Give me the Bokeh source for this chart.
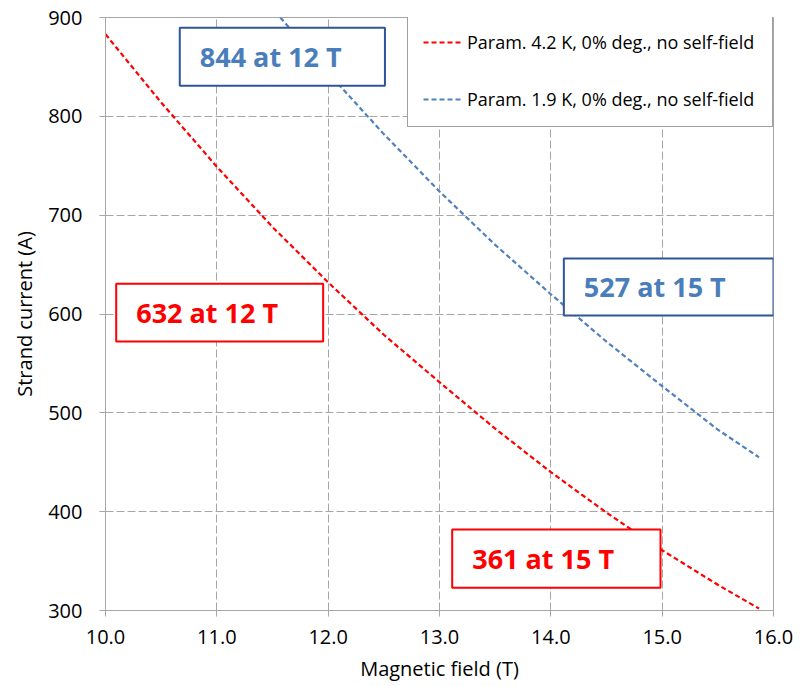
from bokeh.plotting import figure
from bokeh.models import Range1d, FixedTicker, Legend, LegendItem, Label, BoxAnnotation, NumeralTickFormatter
from bokeh.embed import file_html
from bokeh.resources import INLINE

# Data
field_42 = [10.0, 10.5, 11.0, 11.5, 12.0, 12.5, 13.0, 13.5, 14.0, 14.5, 15.0, 15.5, 15.87]
current_42 = [883, 814, 749, 688, 632, 579, 531, 484, 440, 399, 361, 326, 302]
field_19 = [11.57, 12.0, 12.5, 13.0, 13.5, 14.0, 14.5, 15.0, 15.5, 15.87]
current_19 = [900, 844, 782, 724, 670, 620, 572, 527, 483, 455]
label_42 = "Param. 4.2 K, 0% deg., no self-field"
label_19 = "Param. 1.9 K, 0% deg., no self-field"
x_ticks = [10, 11, 12, 13, 14, 15, 16]
y_ticks = [300, 400, 500, 600, 700, 800, 900]
annotations = [
    ("844 at 12 T", 10.667, 12.51, 889.6, 830.9, "#2F5597", "#4A7EBB"),
    ("527 at 15 T", 14.117, 16.0, 656.2, 598.5, "#2F5597", "#4A7EBB"),
    ("632 at 12 T", 10.096, 11.955, 630.6, 572.2, "#FF0000", "#FF0000"),
    ("361 at 15 T", 13.114, 14.985, 382.0, 323.0, "#FF0000", "#FF0000"),
]

FONT = "Open Sans"
p = figure(width=811, height=686, output_backend="svg", toolbar_location=None,
           x_range=Range1d(10, 16), y_range=Range1d(300, 900),
           min_border_left=105, min_border_right=38, min_border_top=17, min_border_bottom=76)
p.background_fill_color = "white"
p.border_fill_color = "white"
p.outline_line_color = "#A6A6A6"
p.outline_line_width = 1

for ax in (p.xaxis[0], p.yaxis[0]):
    ax.axis_line_color = "#A6A6A6"
    ax.major_tick_line_color = "#A6A6A6"
    ax.major_tick_out = 6
    ax.major_tick_in = 0
    ax.minor_tick_line_color = None
    ax.major_label_text_font = FONT
    ax.major_label_text_font_size = "20px"
    ax.major_label_text_color = "#000000"
    ax.axis_label_text_font = FONT
    ax.axis_label_text_font_size = "20px"
    ax.axis_label_text_font_style = "normal"
    ax.axis_label_text_color = "#000000"

p.xaxis.ticker = FixedTicker(ticks=x_ticks)
p.xaxis.formatter = NumeralTickFormatter(format="0.0")
p.yaxis.ticker = FixedTicker(ticks=y_ticks)
p.xaxis.axis_label = "Magnetic field (T)"
p.yaxis.axis_label = "Strand current (A)"
p.xaxis.major_label_standoff = 13
p.yaxis.major_label_standoff = 17
p.xaxis.axis_label_standoff = 8
p.yaxis.axis_label_standoff = 7

for g in (p.xgrid[0], p.ygrid[0]):
    g.grid_line_color = "#A6A6A6"
    g.grid_line_dash = "8 3"
    g.grid_line_width = 1

r42 = p.line(field_42, current_42, line_color="#FF0000", line_width=2.2, line_dash="5 3")
r19 = p.line(field_19, current_19, line_color="#4F81BD", line_width=2.2, line_dash="5 3")

for text, x0, x1, y1, y0, border, tcolor in annotations:
    p.add_layout(BoxAnnotation(left=x0, right=x1, top=y1, bottom=y0,
                               fill_color="white", fill_alpha=1.0,
                               line_color=border, line_alpha=1.0, line_width=2))
    p.add_layout(Label(x=x0, y=(y0 + y1) / 2, x_offset=20, text=text,
                       text_align="left", text_baseline="middle",
                       text_font=FONT, text_font_size="27px", text_font_style="bold",
                       text_color=tcolor))

legend = Legend(items=[LegendItem(label=label_42, renderers=[r42]),
                       LegendItem(label=label_19, renderers=[r19])],
                location=(302, 483))
legend.label_text_font = FONT
legend.label_text_font_size = "18px"
legend.label_text_color = "#000000"
legend.glyph_width = 40
legend.glyph_height = 20
legend.label_height = 20
legend.label_width = 290
legend.label_standoff = 4
legend.spacing = 33
legend.padding = 15
legend.margin = 0
legend.border_line_color = "#404040"
legend.border_line_width = 1
legend.background_fill_color = "white"
legend.background_fill_alpha = 1.0
p.add_layout(legend)

open("out.html", "w").write(file_html(p, INLINE))
